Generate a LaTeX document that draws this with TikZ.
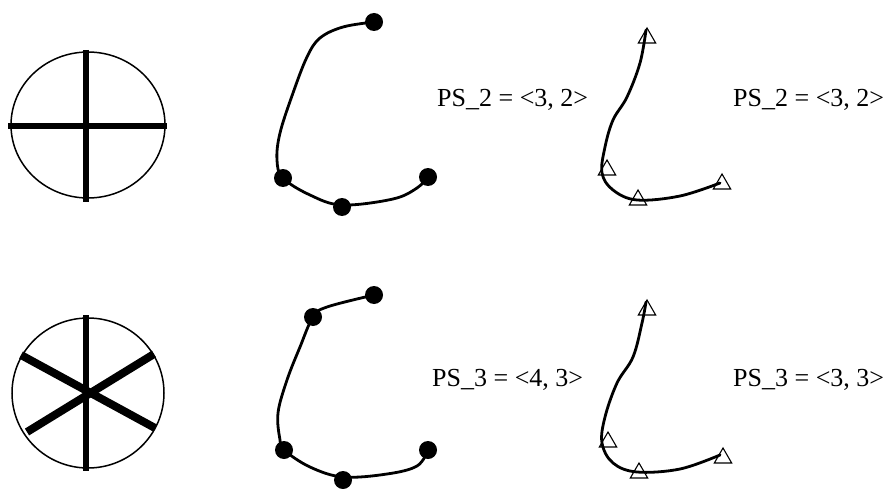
\documentclass[tikz,border=0pt]{standalone}
\usepackage{fontspec}
\setmainfont{Liberation Serif}
\usetikzlibrary{shapes.geometric}
\begin{document}
\begin{tikzpicture}[x=1pt,y=-1pt,
  ring/.style={line width=1.5pt},
  bar/.style={line width=6pt},
  dbar/.style={line width=8pt},
  curve/.style={line width=2.8pt, line cap=round},
  dot/.style={circle, fill=black, minimum size=18pt, inner sep=0pt},
  tri/.style={regular polygon, regular polygon sides=3, draw, line width=1.1pt, minimum size=20pt, inner sep=0pt},
  lbl/.style={anchor=base west, inner sep=0pt, font=\fontsize{26}{30}\selectfont}]
\useasboundingbox (0,0) rectangle (890,489);

% ---- circle 1 ----
\draw[ring] (88,125) ellipse [x radius=77, y radius=73];
\coordinate (h1) at (8,126); \coordinate (h2) at (167,126);
\coordinate (v1) at (86,50); \coordinate (v2) at (86,202);
\draw[bar] (h1) -- (h2);
\draw[bar] (v1) -- (v2);

% ---- circle 2 ----
\draw[ring] (88,393) ellipse [x radius=76, y radius=75];
\coordinate (w1) at (86,315); \coordinate (w2) at (86,471);
\coordinate (a1) at (21,355); \coordinate (a2) at (155,428);
\coordinate (b1) at (154,354); \coordinate (b2) at (27,432);
\draw[bar] (w1) -- (w2);
\draw[dbar] (a1) -- (a2);
\draw[dbar] (b1) -- (b2);

% ---- curve 1 (dots) ----
\draw[curve] plot[smooth, tension=0.6] coordinates {(374,22) (343,27) (320,38) (307,57) (293,93) (280,133) (277,160) (283,178) (310,195) (342,205) (393,199) (417,188) (428,177)};
\node[dot] (c1a) at (374,22) {};
\node[dot] (c1b) at (283,178) {};
\node[dot] (c1c) at (342,207) {};
\node[dot] (c1d) at (428,177) {};
\node[lbl] (l1) at (437,107) {PS\_2 = <3, 2>};

% ---- curve 2 (triangles) ----
\draw[curve] plot[smooth, tension=0.6] coordinates {(646,30) (640,63) (627,97) (613,120) (605,147) (602,173) (613,190) (637,200) (680,196) (720,183)};
\node[tri] (t1a) at (647,38) {};
\node[tri] (t1b) at (607,170) {};
\node[tri] (t1c) at (638,200) {};
\node[tri] (t1d) at (722,184) {};
\node[lbl] (l2) at (733,107) {PS\_2 = <3, 2>};

% ---- curve 3 (dots) ----
\draw[curve] plot[smooth, tension=0.6] coordinates {(374,295) (327,307) (313,317) (300,347) (287,380) (278,413) (280,440) (284,450) (310,467) (343,477) (387,474) (417,466) (428,450)};
\node[dot] (c3a) at (374,295) {};
\node[dot] (c3b) at (313,317) {};
\node[dot] (c3c) at (284,450) {};
\node[dot] (c3d) at (343,480) {};
\node[dot] (c3e) at (428,450) {};
\node[lbl] (l3) at (432,386) {PS\_3 = <4, 3>};

% ---- curve 4 (triangles) ----
\draw[curve] plot[smooth, tension=0.6] coordinates {(646,302) (642,323) (633,357) (617,383) (605,417) (602,443) (613,463) (637,472) (680,469) (720,455)};
\node[tri] (t2a) at (647,310) {};
\node[tri] (t2b) at (608,442) {};
\node[tri] (t2c) at (639,473) {};
\node[tri] (t2d) at (723,458) {};
\node[lbl] (l4) at (733,386) {PS\_3 = <3, 3>};
\end{tikzpicture}
\end{document}
